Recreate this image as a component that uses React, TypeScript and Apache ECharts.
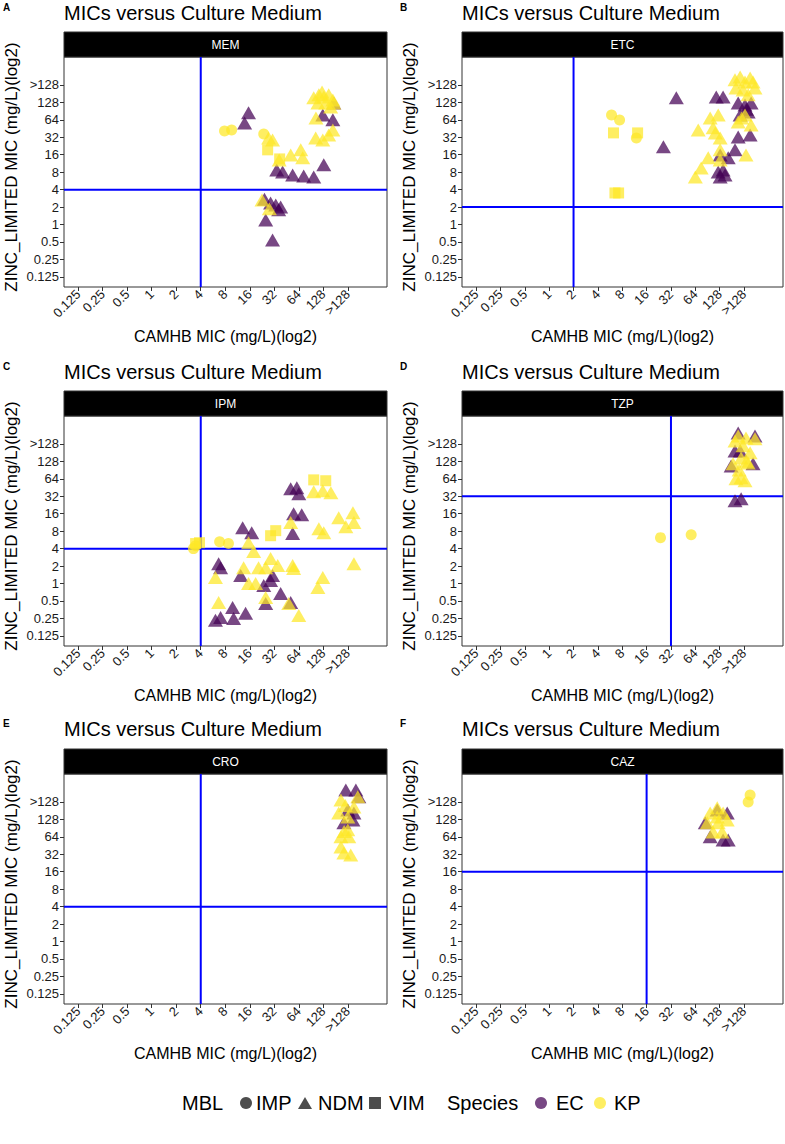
import React, { useEffect, useRef } from "react";
import * as echarts from "echarts";

// Log2 axis: 0.125 -> -3 ... 128 -> 7, ">128" sits one step above 128.
const TICK_POS = [-3, -2, -1, 0, 1, 2, 3, 4, 5, 6, 7, 8];
const TICK_LABELS = ["0.125", "0.25", "0.5", "1", "2", "4", "8", "16", "32", "64", "128", ">128"];
const AX_MIN = -3.58;
const AX_MAX = 9.6;

const DRUGS = ["MEM", "ETC", "IPM", "TZP", "CRO", "CAZ"];
const PANEL_TAGS = ["A", "B", "C", "D", "E", "F"];
// Breakpoints (log2) for the reference lines on each panel
const BREAK_X = [2, 1, 2, 5, 2, 4];
const BREAK_Y = [2, 1, 2, 5, 2, 4];

// Points as [CAMHB log2 MIC, ZINC_LIMITED log2 MIC], jittered
const MEM_KP_IMP = [[2.97, 5.36], [3.26, 5.42], [4.57, 5.19]];
const MEM_KP_VIM = [[4.73, 4.28], [5.22, 3.76]];
const MEM_KP_NDM = [
  [4.77, 4.96], [4.93, 4.85], [5.2, 3.7], [5.67, 3.99], [6.08, 4.28], [6.16, 3.82],
  [6.61, 7.26], [6.82, 7.43], [7.02, 7.31], [7.22, 7.43], [7.39, 7.14], [6.78, 6.97],
  [7.1, 6.97], [7.3, 6.74], [7.43, 6.97], [6.95, 7.6], [6.7, 6.1], [6.69, 4.96],
  [6.98, 4.85], [7.22, 5.13], [7.39, 5.42], [4.5, 1.4], [4.8, 0.9],
];
const MEM_EC_NDM = [
  [3.95, 6.4], [3.79, 5.82], [5.1, 3.13], [5.34, 3.01], [5.75, 2.84], [6.2, 2.78],
  [6.61, 2.73], [7.02, 3.42], [6.98, 6.28], [7.39, 6.0], [7.43, 6.97], [4.6, 1.45],
  [4.85, 1.24], [5.06, 1.12], [5.18, 0.84], [5.26, 1.01], [4.65, 0.26], [4.93, -0.88],
];

const ETC_KP_IMP = [[2.56, 6.28], [2.89, 5.99], [3.58, 4.96]];
const ETC_KP_VIM = [[2.64, 5.25], [3.63, 5.25], [2.7, 1.81], [2.85, 1.81]];
const ETC_KP_NDM = [
  [6.12, 5.42], [6.24, 3.24], [6.0, 2.73], [6.61, 6.11], [6.73, 5.54], [6.94, 6.28],
  [7.02, 4.96], [6.82, 5.25], [6.53, 3.82], [7.02, 4.28], [7.02, 3.7], [7.76, 5.88],
  [8.04, 6.28], [8.29, 5.71], [8.08, 3.99], [7.63, 8.29], [7.84, 8.46], [8.04, 8.17],
  [8.25, 8.4], [8.37, 8.17], [8.45, 7.83], [7.67, 7.83], [7.96, 7.71], [8.17, 7.43],
  [7.9, 6.1],
];
const ETC_EC_NDM = [
  [5.22, 7.26], [4.69, 4.45], [6.86, 7.31], [7.14, 7.31], [7.76, 6.97], [8.04, 6.85],
  [8.29, 6.97], [8.17, 6.45], [7.84, 6.28], [7.76, 5.02], [8.25, 5.13], [7.63, 4.28],
  [7.02, 3.99], [7.35, 3.82], [6.94, 3.01], [7.14, 3.13], [7.22, 2.84], [7.02, 2.73],
  [8.1, 6.6],
];

const IPM_KP_IMP = [[1.7, 2.0], [1.79, 2.17], [2.77, 2.4], [3.13, 2.29]];
const IPM_KP_VIM = [[1.95, 2.34], [1.79, 2.29], [4.85, 2.74], [5.06, 3.03], [6.61, 5.94], [7.1, 5.89]];
const IPM_KP_NDM = [
  [6.61, 5.26], [6.98, 5.31], [7.31, 5.2], [5.67, 3.49], [6.82, 3.14], [7.02, 2.91],
  [7.63, 3.77], [7.92, 3.26], [8.21, 4.06], [8.25, 3.49], [8.25, 1.14], [6.78, -0.23],
  [6.98, 0.34], [3.95, 2.34], [4.16, 1.83], [2.6, 0.34], [3.75, 0.91], [3.95, 0.0],
  [4.24, 0.0], [4.36, 0.91], [4.65, 0.91], [4.85, 1.43], [5.14, 1.03], [5.75, 1.03],
  [5.79, 0.86], [4.65, -0.8], [5.59, -1.14], [6.0, -1.83], [2.73, -1.09],
];
const IPM_EC_NDM = [
  [5.67, 5.43], [5.92, 5.49], [6.0, 5.14], [5.79, 4.0], [6.12, 3.94], [5.75, 2.86],
  [3.71, 3.2], [4.08, 2.91], [2.73, 1.14], [2.81, 0.91], [3.63, 0.46], [4.57, -0.11],
  [4.85, 0.17], [4.93, 0.46], [5.26, -0.57], [5.67, -1.09], [4.65, -1.14], [2.81, -1.94],
  [3.3, -1.37], [3.34, -2.0], [3.83, -1.71], [2.6, -2.1],
];

const TZP_KP_IMP = [[4.57, 2.63], [5.83, 2.8]];
const TZP_KP_NDM = [
  [7.67, 6.0], [7.88, 6.06], [8.04, 5.89], [7.55, 6.86], [7.88, 7.2], [8.25, 7.49],
  [7.63, 8.17], [8.08, 8.34], [8.45, 8.29], [7.96, 7.89], [7.76, 8.46], [8.17, 6.91],
  [7.8, 6.5], [8.1, 7.0],
];
const TZP_EC_NDM = [
  [7.63, 4.74], [7.88, 4.86], [7.47, 6.74], [8.37, 6.86], [7.84, 7.6], [8.45, 8.46],
  [7.76, 8.63], [7.63, 7.6],
];

const CRO_KP_NDM = [
  [7.72, 5.42], [8.04, 6.0], [7.72, 6.0], [8.12, 4.96], [7.84, 5.08], [7.63, 7.37],
  [8.0, 7.14], [7.72, 8.11], [8.25, 7.71], [8.0, 6.4], [8.41, 8.29], [7.85, 6.3],
  [7.9, 7.8],
];
const CRO_EC_NDM = [
  [7.92, 8.69], [8.33, 8.69], [8.0, 7.54], [8.45, 8.29], [7.84, 6.8], [8.25, 7.37],
  [8.21, 6.97],
];

const CAZ_KP_IMP = [[8.25, 8.4], [8.17, 8.0]];
const CAZ_KP_NDM = [
  [6.61, 7.37], [6.9, 7.66], [7.14, 7.37], [6.49, 6.8], [6.94, 6.8], [7.31, 6.97],
  [6.73, 6.28], [7.1, 6.28], [6.9, 7.14],
];
const CAZ_EC_NDM = [
  [6.61, 6.0], [7.35, 5.82], [7.14, 5.82], [6.9, 7.54], [7.31, 7.37], [6.41, 6.8],
];

type Group = { species: "EC" | "KP"; mbl: "IMP" | "NDM" | "VIM"; data: number[][] };

const PANEL_GROUPS: Group[][] = [
  [
    { species: "EC", mbl: "NDM", data: MEM_EC_NDM },
    { species: "KP", mbl: "IMP", data: MEM_KP_IMP },
    { species: "KP", mbl: "NDM", data: MEM_KP_NDM },
    { species: "KP", mbl: "VIM", data: MEM_KP_VIM },
  ],
  [
    { species: "EC", mbl: "NDM", data: ETC_EC_NDM },
    { species: "KP", mbl: "IMP", data: ETC_KP_IMP },
    { species: "KP", mbl: "NDM", data: ETC_KP_NDM },
    { species: "KP", mbl: "VIM", data: ETC_KP_VIM },
  ],
  [
    { species: "EC", mbl: "NDM", data: IPM_EC_NDM },
    { species: "KP", mbl: "IMP", data: IPM_KP_IMP },
    { species: "KP", mbl: "NDM", data: IPM_KP_NDM },
    { species: "KP", mbl: "VIM", data: IPM_KP_VIM },
  ],
  [
    { species: "EC", mbl: "NDM", data: TZP_EC_NDM },
    { species: "KP", mbl: "IMP", data: TZP_KP_IMP },
    { species: "KP", mbl: "NDM", data: TZP_KP_NDM },
  ],
  [
    { species: "EC", mbl: "NDM", data: CRO_EC_NDM },
    { species: "KP", mbl: "NDM", data: CRO_KP_NDM },
  ],
  [
    { species: "EC", mbl: "NDM", data: CAZ_EC_NDM },
    { species: "KP", mbl: "IMP", data: CAZ_KP_IMP },
    { species: "KP", mbl: "NDM", data: CAZ_KP_NDM },
  ],
];

const SPECIES_COLOR: Record<string, string> = { EC: "#440154", KP: "#FDE725" };
const MBL_SYMBOL: Record<string, string> = { IMP: "circle", NDM: "triangle", VIM: "rect" };
const MBL_SIZE: Record<string, number[]> = { IMP: [11, 11], NDM: [15, 13], VIM: [11, 11] };

const FONT = "'Liberation Sans', Arial, Helvetica, sans-serif";
const COL_LEFT = [64, 462];
const COL_W = [323, 321];
const ROW_TOP = [57, 416, 774];
const PLOT_H = 230;
const STRIP_H = 25;
const W = 785;
const H = 1144;

function tickLabel(v: number) {
  const i = TICK_POS.indexOf(Math.round(v));
  return i >= 0 ? TICK_LABELS[i] : "";
}

function buildOption() {
  const grid: any[] = [];
  const xAxis: any[] = [];
  const yAxis: any[] = [];
  const series: any[] = [];
  const graphic: any[] = [];

  DRUGS.forEach((drug, i) => {
    const col = i % 2;
    const row = Math.floor(i / 2);
    const left = COL_LEFT[col];
    const width = COL_W[col];
    const top = ROW_TOP[row];

    grid.push({
      left, top, width, height: PLOT_H, show: true,
      borderColor: "#333", borderWidth: 1, backgroundColor: "#fff",
    });

    const common = {
      gridIndex: i, type: "value", min: AX_MIN, max: AX_MAX,
      splitLine: { show: false },
      axisLine: { show: false, onZero: false },
      axisTick: { show: true, length: 4, lineStyle: { color: "#333", width: 1 }, customValues: TICK_POS },
    };
    xAxis.push({
      ...common,
      axisLabel: {
        customValues: TICK_POS, formatter: tickLabel, rotate: 45, margin: 5,
        fontSize: 13, color: "#1a1a1a", fontFamily: FONT,
      },
    });
    yAxis.push({
      ...common,
      axisLabel: {
        customValues: TICK_POS, formatter: tickLabel, margin: 5,
        fontSize: 13, color: "#1a1a1a", fontFamily: FONT,
      },
    });

    // reference lines at the breakpoints
    series.push({
      type: "line", xAxisIndex: i, yAxisIndex: i, z: 1, symbol: "none", silent: true,
      lineStyle: { color: "#0000ff", width: 2 },
      data: [[BREAK_X[i], AX_MIN], [BREAK_X[i], AX_MAX]],
    });
    series.push({
      type: "line", xAxisIndex: i, yAxisIndex: i, z: 1, symbol: "none", silent: true,
      lineStyle: { color: "#0000ff", width: 2 },
      data: [[AX_MIN, BREAK_Y[i]], [AX_MAX, BREAK_Y[i]]],
    });

    PANEL_GROUPS[i].forEach((g) => {
      series.push({
        type: "scatter", xAxisIndex: i, yAxisIndex: i, z: 2,
        symbol: MBL_SYMBOL[g.mbl], symbolSize: MBL_SIZE[g.mbl],
        itemStyle: { color: SPECIES_COLOR[g.species], opacity: 0.72 },
        data: g.data,
      });
    });

    // facet strip
    graphic.push({
      type: "rect", shape: { x: left, y: top - STRIP_H, width, height: STRIP_H },
      style: { fill: "#000", stroke: "#333", lineWidth: 1 },
    });
    graphic.push({
      type: "text", x: left + width / 2, y: top - STRIP_H / 2,
      style: { text: drug, fill: "#fff", font: `12px ${FONT}`, align: "center", verticalAlign: "middle" },
    });
    // panel title
    const titleY = [13, 372, 729][row];
    graphic.push({
      type: "text", x: left, y: titleY,
      style: { text: "MICs versus Culture Medium", fill: "#000", font: `20px ${FONT}`, align: "left", verticalAlign: "middle" },
    });
    // panel tag
    graphic.push({
      type: "text", x: col === 0 ? 3 : 400, y: [7, 366, 723][row],
      style: { text: PANEL_TAGS[i], fill: "#000", font: `bold 10px ${FONT}`, align: "left", verticalAlign: "middle" },
    });
    // axis titles
    graphic.push({
      type: "text", x: col === 0 ? 11 : 409, y: top + 110, rotation: Math.PI / 2,
      style: { text: "ZINC_LIMITED MIC (mg/L)(log2)", fill: "#000", font: `17px ${FONT}`, align: "center", verticalAlign: "middle" },
    });
    graphic.push({
      type: "text", x: left + width / 2, y: top + PLOT_H + 49,
      style: { text: "CAMHB MIC (mg/L)(log2)", fill: "#000", font: `16px ${FONT}`, align: "center", verticalAlign: "middle" },
    });
  });

  // shared legend
  const ly = 1103;
  const lt = (text: string, x: number) => ({
    type: "text", x, y: ly,
    style: { text, fill: "#000", font: `20px ${FONT}`, align: "left", verticalAlign: "middle" },
  });
  const keyGrey = "#4d4d4d";
  graphic.push(lt("MBL", 182));
  graphic.push({ type: "circle", shape: { cx: 246, cy: ly, r: 6 }, style: { fill: keyGrey } });
  graphic.push(lt("IMP", 256));
  graphic.push({ type: "polygon", shape: { points: [[298, ly + 6], [312, ly + 6], [305, ly - 6]] }, style: { fill: keyGrey } });
  graphic.push(lt("NDM", 318));
  graphic.push({ type: "rect", shape: { x: 369, y: ly - 6, width: 12, height: 12 }, style: { fill: keyGrey } });
  graphic.push(lt("VIM", 389));
  graphic.push(lt("Species", 447));
  graphic.push({ type: "circle", shape: { cx: 541, cy: ly, r: 6 }, style: { fill: SPECIES_COLOR.EC, opacity: 0.72 } });
  graphic.push(lt("EC", 556));
  graphic.push({ type: "circle", shape: { cx: 600, cy: ly, r: 6 }, style: { fill: SPECIES_COLOR.KP, opacity: 0.72 } });
  graphic.push(lt("KP", 614));

  return {
    animation: false,
    backgroundColor: "#fff",
    grid, xAxis, yAxis, series, graphic,
  };
}

export default function App() {
  const ref = useRef<HTMLDivElement>(null);
  useEffect(() => {
    document.body.style.margin = "0";
    if (!ref.current) return;
    const chart = echarts.init(ref.current, undefined, { renderer: "svg" });
    chart.setOption(buildOption() as any);
    return () => chart.dispose();
  }, []);
  return <div ref={ref} style={{ width: W, height: H }} />;
}
